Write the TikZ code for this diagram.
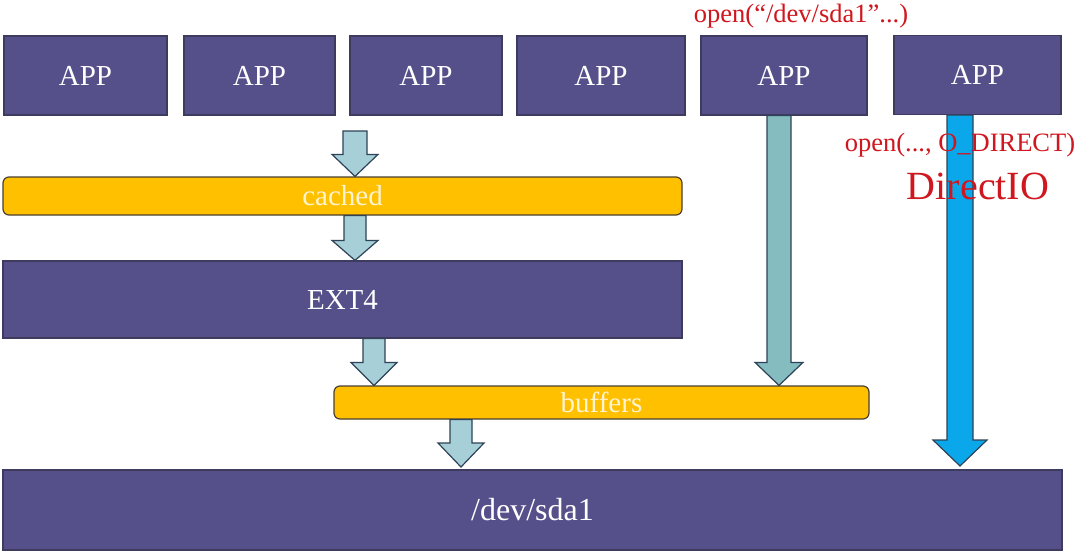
\documentclass[tikz,border=0pt]{standalone}
\usepackage{fontspec}
\setmainfont{Liberation Serif}
\usetikzlibrary{calc}
\definecolor{boxfill}{HTML}{55508A}
\definecolor{boxline}{HTML}{3E3C5E}
\definecolor{barfill}{HTML}{FFC000}
\definecolor{barline}{HTML}{4A4030}
\definecolor{bartext}{HTML}{FFF4D2}
\definecolor{arrlight}{HTML}{A6CFD8}
\definecolor{arrteal}{HTML}{84BCC0}
\definecolor{arrblue}{HTML}{0AA8EA}
\definecolor{arrline}{HTML}{2E4357}
\definecolor{redtxt}{HTML}{D0161E}
\tikzset{
  appbox/.style={draw=boxline, line width=1.2pt, fill=boxfill, text=white, inner sep=0pt,
    font=\fontsize{29}{31}\selectfont},
  barbox/.style={draw=barline, line width=1.2pt, fill=barfill, text=bartext, inner sep=0pt,
    rounded corners=6pt, font=\fontsize{29}{31}\selectfont},
  fatarr/.style={draw=arrline, line width=1.2pt, line join=miter},
  redlab/.style={text=redtxt, inner sep=0pt},
}
% #1 style, #2 x-centre, #3 start, #4 end, #5 shaft half width, #6 head half width, #7 head length
\newcommand\blockarrow[7]{%
  \draw[fatarr,#1] let \p1=(#3), \p2=(#4) in
    (#2-#5,\y1) -- (#2+#5,\y1) -- (#2+#5,\y2+#7) -- (#2+#6,\y2+#7) -- (#2,\y2)
    -- (#2-#6,\y2+#7) -- (#2-#5,\y2+#7) -- cycle;}
\begin{document}
\begin{tikzpicture}[x=1pt,y=-1pt]
\useasboundingbox[fill=white] (0,0) rectangle (1080,555);
% APP boxes
\node[appbox, minimum width=163pt, minimum height=79pt] (a1) at (85.5,75.5) {APP};
\node[appbox, minimum width=151pt, minimum height=79pt] (a2) at (259.5,75.5) {APP};
\node[appbox, minimum width=152pt, minimum height=79pt] (a3) at (426,75.5) {APP};
\node[appbox, minimum width=168pt, minimum height=79pt] (a4) at (601,75.5) {APP};
\node[appbox, minimum width=166pt, minimum height=79pt] (a5) at (784,75.5) {APP};
\node[appbox, minimum width=167pt, minimum height=79pt] (a6) at (977.5,75) {APP};
% layers
\node[barbox, minimum width=679pt, minimum height=38pt] (cached) at (342.5,196) {cached};
\node[appbox, minimum width=679pt, minimum height=77pt] (ext) at (342.5,299.5) {EXT4};
\node[barbox, minimum width=535pt, minimum height=33pt] (buffers) at (601.5,402.5) {buffers};
\node[appbox, minimum width=1059pt, minimum height=80pt, font=\fontsize{32}{34}\selectfont] (sda) at (532.5,510) {/dev/sda1};
\coordinate (c1) at (355,131);
\coordinate (c4) at (461,467);
\coordinate (c6) at (960,466);
% arrows
\blockarrow{fill=arrlight}{355}{c1}{cached.north}{12}{23}{22}
\blockarrow{fill=arrlight}{355}{cached.south}{ext.north}{11}{23}{20}
\blockarrow{fill=arrlight}{374}{ext.south}{buffers.north}{11}{23}{23}
\blockarrow{fill=arrlight}{461}{buffers.south}{c4}{11}{23}{24}
\blockarrow{fill=arrteal}{779}{a5.south}{buffers.north}{12}{24}{23}
\blockarrow{fill=arrblue}{960}{a6.south}{c6}{13}{27}{26}
% red labels
\node[redlab, font=\fontsize{26.5}{28}\selectfont] (l1) at (801,16) {open(“/dev/sda1”...)};
\node[redlab, font=\fontsize{26.5}{28}\selectfont] (l2) at (960,145) {open(..., O\_DIRECT)};
\node[redlab, font=\fontsize{40}{42}\selectfont] (l3) at (978,186) {DirectIO};
\end{tikzpicture}
\end{document}
